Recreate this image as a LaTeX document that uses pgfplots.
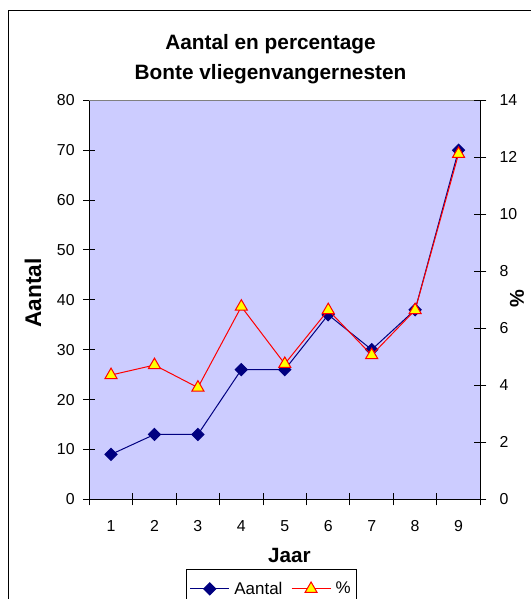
\documentclass[border=0pt]{standalone}
\usepackage{pgfplots}
\pgfplotsset{compat=1.18}
\usepackage{fontspec}
\setmainfont{Liberation Sans}
\definecolor{plotbg}{RGB}{204,204,255}
\definecolor{navyc}{RGB}{0,0,128}
\definecolor{redc}{RGB}{255,0,0}
\definecolor{yellowc}{RGB}{255,255,0}
\pgfplotstableread{
x aantal pct
1 9 4.36
2 13 4.71
3 13 3.92
4 26 6.76
5 26 4.75
6 37 6.64
7 30 5.06
8 38 6.64
9 70 12.12
}\datatable
\begin{document}
\begin{tikzpicture}
\useasboundingbox (0,0) rectangle (398.25pt,449.25pt);
\draw[black, line width=0.75pt] (6pt,441pt) rectangle (420pt,-20pt);
\pgfplotsset{
  common/.style={
    at={(66.975pt,74.775pt)}, anchor=south west,
    scale only axis, width=293.25pt, height=299.25pt,
    xmin=0.5, xmax=9.5,
    axis line style={black, line width=0.75pt},
    tick style={black, line width=0.75pt},
    tick align=center, major tick length=9pt, minor tick length=9pt,
    /pgf/number format/assume math mode=true,
    tick label style={font=\fontsize{11.9}{14}\selectfont},
    clip=false,
  },
  legend image code/.code={\draw[mark repeat=2,mark phase=2] plot coordinates {(0pt,0pt) (14.6pt,0pt) (29.2pt,0pt)};},
}
\begin{axis}[common,
  ymin=0, ymax=80,
  axis x line*=bottom, axis y line*=left,
  axis background/.style={fill=plotbg},
  xtick={1,...,9}, minor xtick={0.5,1.5,...,9.5},
  major x tick style={draw=none},
  ytick={0,10,...,80},
  xticklabel style={yshift=-8pt},
  yticklabel style={xshift=-3pt},
]
\draw[gray, line width=0.75pt] (rel axis cs:0,1) -- (rel axis cs:1,1);
\addplot[navyc, line width=0.75pt, mark=square*, mark size=3.2pt, mark options={rotate=45, fill=navyc, draw=navyc}] table[x=x, y=aantal] {\datatable};
\end{axis}
\begin{axis}[common,
  ymin=0, ymax=14,
  axis y line*=right, axis x line=none,
  ytick={0,2,...,14},
  yticklabel style={xshift=6.5pt},
  legend style={at={(0.2473,-0.1754)}, anchor=north west, draw=black, fill=white, line width=0.75pt,
    font=\fontsize{12.7}{15}\selectfont, inner xsep=2.5pt, inner ysep=7pt,
    /tikz/every odd column/.append style={column sep=1.5pt},
    /tikz/every even column/.append style={column sep=4.5pt}},
  legend columns=4,
]
\addlegendimage{navyc, line width=0.75pt, mark=square*, mark size=3.2pt, mark options={rotate=45, fill=navyc, draw=navyc}}
\addlegendentry{Aantal}
\addplot[redc, line width=0.75pt, mark=triangle*, mark size=5.2pt, mark options={fill=yellowc, draw=redc}] table[x=x, y=pct] {\datatable};
\addlegendentry{\%}
\end{axis}
\node[anchor=base, font=\fontsize{15.6}{18}\bfseries\selectfont] at (202.9pt,411.75pt) {Aantal en percentage};
\node[anchor=base, font=\fontsize{15.6}{18}\bfseries\selectfont] at (202.9pt,389.6pt) {Bonte vliegenvangernesten};
\node[rotate=90, font=\fontsize{17}{20}\bfseries\selectfont] at (24.75pt,229.5pt) {Aantal};
\node[rotate=90, font=\fontsize{15}{18}\bfseries\selectfont] at (387.75pt,225pt) {\%};
\node[anchor=base, font=\fontsize{15.5}{18}\bfseries\selectfont] at (217.1pt,27.5pt) {Jaar};
\end{tikzpicture}
\end{document}
